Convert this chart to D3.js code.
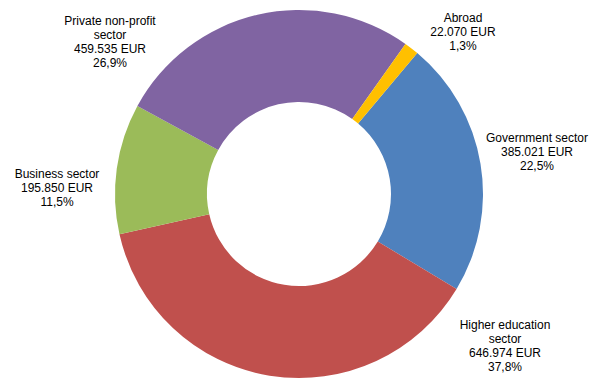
<!DOCTYPE html>
<html>
<head>
<meta charset="utf-8">
<script src="https://cdn.jsdelivr.net/npm/d3@7"></script>
<style>
  html, body { margin: 0; padding: 0; background: #fff; }
  svg { display: block; }
  text { font-family: "Liberation Sans", Arial, sans-serif; font-size: 12px; fill: #000; }
</style>
</head>
<body>
<svg id="chart" width="595" height="391"></svg>
<script>
// ---- data ----
const categories = ["Government sector", "Higher education sector", "Business sector", "Private non-profit sector", "Abroad"];
const values = [385021, 646974, 195850, 459535, 22070];
const colors = ["#4F81BD", "#C0504D", "#9BBB59", "#8064A2", "#FFC000"];

// ---- layout (not data) ----
const width = 595, height = 391;
const cx = 299, cy = 194, outerR = 184, innerR = 92;
const startDeg = 40;
// label anchor: centre x, centre y of first line
const labelPos = {
  "Government sector": [537, 138],
  "Higher education sector": [505, 325],
  "Business sector": [57, 174],
  "Private non-profit sector": [110, 21],
  "Abroad": [463, 18]
};
const lineH = 13.8;

const locale = d3.formatLocale({ decimal: ",", thousands: ".", grouping: [3], currency: ["", ""] });
const fmtNum = locale.format(",.0f");
const fmtPct = locale.format(".1%");

const data = categories.map((c, i) => ({ name: c, value: values[i], color: colors[i] }));
const total = d3.sum(values);

const svg = d3.select("#chart");
const g = svg.append("g").attr("transform", `translate(${cx},${cy})`);

const start = startDeg * Math.PI / 180;
const pie = d3.pie().sort(null).value(d => d.value).startAngle(start).endAngle(start + 2 * Math.PI);
const arc = d3.arc().innerRadius(innerR).outerRadius(outerR);

g.selectAll("path").data(pie(data)).join("path")
  .attr("d", arc)
  .attr("fill", d => d.data.color);

function wrapName(name) {
  if (name.length <= 17) return [name];
  const idx = name.lastIndexOf(" ");
  return [name.slice(0, idx), name.slice(idx + 1)];
}

data.forEach(d => {
  const lines = [...wrapName(d.name), fmtNum(d.value) + " EUR", fmtPct(d.value / total)];
  const [lx, ly] = labelPos[d.name];
  const t = svg.append("text").attr("text-anchor", "middle");
  lines.forEach((l, i) => {
    t.append("tspan").attr("x", lx).attr("y", ly + i * lineH + 4.3).text(l);
  });
});
</script>
</body>
</html>
